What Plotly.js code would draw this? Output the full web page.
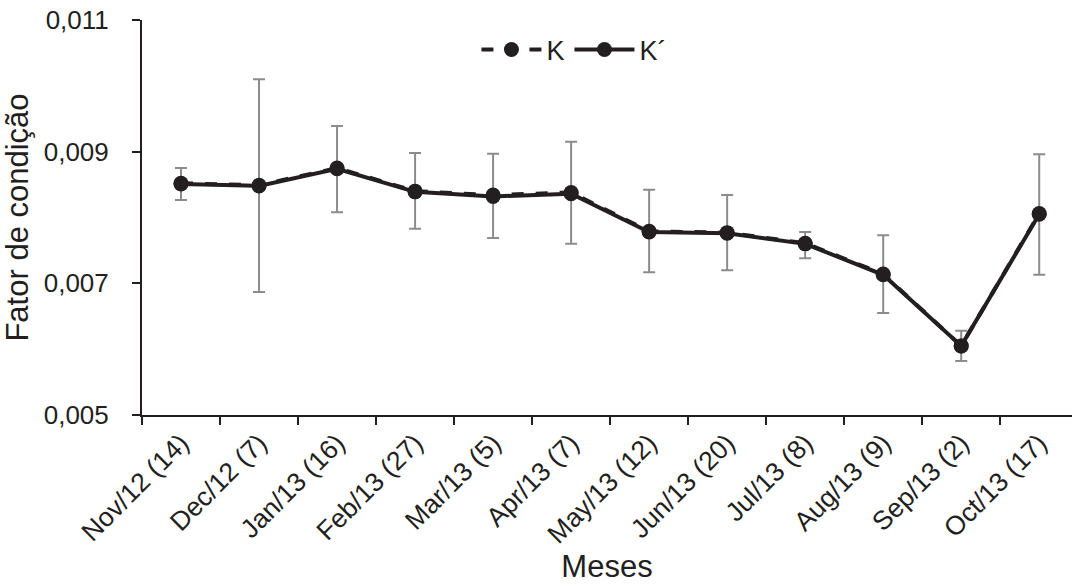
<!DOCTYPE html>
<html><head><meta charset="utf-8">
<script src="https://cdn.plot.ly/plotly-3.0.1.min.js"></script>
<style>body{margin:0;background:#fff}#c{width:1072px;height:587px}</style>
</head><body><div id="c"></div>
<script>
const categories = ["Nov/12 (14)","Dec/12 (7)","Jan/13 (16)","Feb/13 (27)","Mar/13 (5)","Apr/13 (7)","May/13 (12)","Jun/13 (20)","Jul/13 (8)","Aug/13 (9)","Sep/13 (2)","Oct/13 (17)"];
const kValues     = [0.00852,0.00849,0.00875,0.00840,0.00834,0.00838,0.00779,0.00777,0.00761,0.00714,0.00605,0.00806];
const kPrimeValues= [0.00851,0.00848,0.00874,0.00839,0.00832,0.00836,0.00778,0.00776,0.00760,0.00713,0.00605,0.00805];
const errUpper    = [0.00875,0.01010,0.00939,0.00898,0.00897,0.00915,0.00842,0.00834,0.00778,0.00773,0.00628,0.00896];
const errLower    = [0.008266,0.00687,0.00808,0.00783,0.00769,0.00760,0.00717,0.00720,0.00738,0.00655,0.00582,0.00713];
const yTicks = [0.005,0.007,0.009,0.011];

const plus = errUpper.map((u,i)=>u-kPrimeValues[i]);
const minus = kPrimeValues.map((v,i)=>v-errLower[i]);
const dark = '#231f20';
const errTrace = {x:categories,y:kPrimeValues,type:'scatter',mode:'markers',showlegend:false,hoverinfo:'skip',
  marker:{size:0,opacity:0},
  error_y:{type:'data',symmetric:false,array:plus,arrayminus:minus,color:'#8c8c8c',thickness:2,width:6}};
const kTrace = {x:categories,y:kValues,name:'K',type:'scatter',mode:'lines+markers',
   line:{color:dark,width:4,dash:'dash'},marker:{color:dark,size:15}};
const kpTrace = {x:categories,y:kPrimeValues,name:'K´',type:'scatter',mode:'lines+markers',
   line:{color:dark,width:4},marker:{color:dark,size:15}};
const layout = {
  width:1072,height:587,
  margin:{l:142,r:0,t:20,b:172},
  paper_bgcolor:'#fff',plot_bgcolor:'#fff',
  font:{family:'Liberation Sans, Arial, sans-serif',color:dark},
  separators:',.',
  showlegend:true,
  legend:{orientation:'h',x:0.465,xanchor:'center',y:0.924,yanchor:'middle',font:{size:27,color:dark},bgcolor:'rgba(0,0,0,0)',itemwidth:60},
  xaxis:{type:'category',range:[-0.5,11.42],showline:true,linecolor:dark,linewidth:2,
    ticks:'outside',tickson:'boundaries',ticklen:8,tickwidth:2,tickcolor:dark,
    tickangle:-45,tickfont:{size:26.5,color:dark},showgrid:false,zeroline:false,automargin:false,
    title:{text:'Meses',font:{size:31,color:dark},standoff:0}},
  yaxis:{range:[0.005,0.011],tickvals:yTicks,tickformat:'.3f',showline:true,linecolor:dark,linewidth:2,
    ticks:'outside',ticklen:8,tickwidth:2,tickcolor:dark,tickfont:{size:26,color:dark},ticklabelstandoff:18,
    showgrid:false,zeroline:false,automargin:false,
    title:{text:'Fator de condição',font:{size:31,color:dark},standoff:8}}
};
Plotly.newPlot('c',[errTrace,kTrace,kpTrace],layout,{displayModeBar:false,staticPlot:true});
</script></body></html>
